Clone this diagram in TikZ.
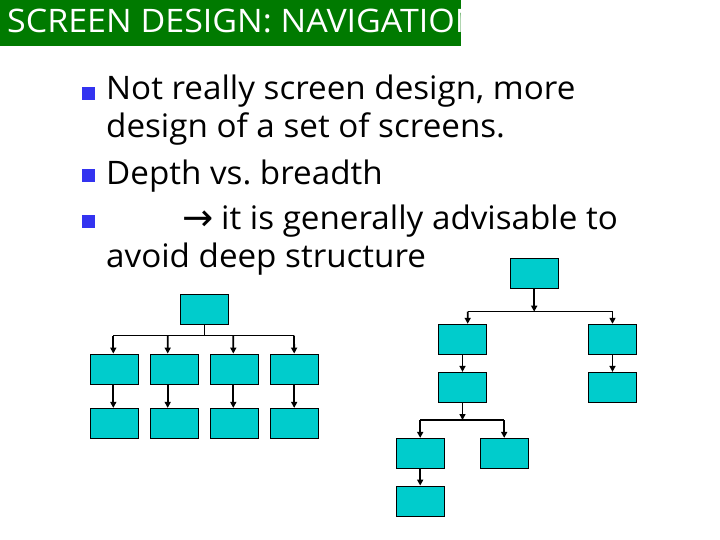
\documentclass[tikz,border=0pt]{standalone}
\usepackage{fontspec}
\setmainfont{Open Sans}
\newfontfamily\arrowfont{DejaVu Sans}
\usetikzlibrary{arrows.meta}
\frenchspacing
\definecolor{titlegreen}{RGB}{0,122,0}
\definecolor{bulletblue}{RGB}{51,51,240}
\definecolor{boxcyan}{RGB}{0,204,204}
\tikzset{
  x={(1bp,0)}, y={(0,-1bp)},
  screen/.style={draw=black, line width=0.8bp, fill=boxcyan, minimum width=48bp, minimum height=30bp, inner sep=0pt},
  arr/.style={line width=1.8bp, -{Triangle[width=6bp,length=6bp]}},
  barline/.style={line width=1.3bp},
  stem/.style={line width=1bp},
  body/.style={anchor=base west, inner sep=0pt, font=\fontsize{32.5}{38}\selectfont},
  bulletsq/.style={fill=bulletblue, draw=none, minimum size=13bp, inner sep=0pt}
}
\newcommand{\wideline}[1]{\scalebox{1.025}[1]{#1}}
\begin{document}
\begin{tikzpicture}
\useasboundingbox (0,0) rectangle (720,540);
% title bar
\fill[titlegreen] (0,0) rectangle (461,46.5);
\begin{scope}
\clip (0,0) rectangle (461,46.5);
\node[anchor=base west, inner sep=0pt, text=white, font=\fontsize{32.5}{38}\selectfont] (title) at (7,33) {\scalebox{1.05}[1]{SCREEN DESIGN: NAVIGATION}};
\end{scope}
% bullets
\node[bulletsq] (b1) at (88.5,94) {};
\node[bulletsq] (b2) at (88.5,176) {};
\node[bulletsq] (b3) at (88.5,221.5) {};
% text
\node[body] (t1) at (106,100) {\wideline{Not really screen design, more}};
\node[body] (t2) at (106,138) {\wideline{design of a set of screens.}};
\node[body] (t3) at (106,185) {\wideline{Depth vs. breadth}};
\node[body] (t4a) at (182,231) {\arrowfont\scalebox{1.15}{→}};
\node[body] (t4) at (221,230) {\wideline{it is generally advisable to}};
\node[body] (t5) at (106,268) {\wideline{avoid deep structure}};
% left tree
\node[screen] (L0) at (204,309) {};
\node[screen] (La) at (114.3,369) {};
\node[screen] (Lb) at (174.2,369) {};
\node[screen] (Lc) at (234.2,369) {};
\node[screen] (Ld) at (294.2,369) {};
\node[screen] (La2) at (114.3,423.3) {};
\node[screen] (Lb2) at (174.2,423.3) {};
\node[screen] (Lc2) at (234.2,423.3) {};
\node[screen] (Ld2) at (294.2,423.3) {};
\coordinate (Lbar) at (204,335.7);
\coordinate (LbarL) at (113.3,335.7);
\coordinate (LbarR) at (294,335.7);
\draw[stem] (L0.south) -- (Lbar);
\draw[barline] (LbarL) -- (LbarR);
\draw[arr] (LbarL) -- ([xshift=-1bp]La.north);
\draw[arr] (Lbar -| Lb.north) ++(-6.5,0) -- ([xshift=-6.5bp]Lb.north);
\draw[arr] (Lbar -| Lc.north) ++(-0.9,0) -- ([xshift=-0.9bp]Lc.north);
\draw[arr] (LbarR) -- (Ld.north);
\draw[arr] ([xshift=-1bp]La.south) -- ([xshift=-1bp]La2.north);
\draw[arr] ([xshift=-6.5bp]Lb.south) -- ([xshift=-6.5bp]Lb2.north);
\draw[arr] ([xshift=-0.9bp]Lc.south) -- ([xshift=-0.9bp]Lc2.north);
\draw[arr] (Ld.south) -- (Ld2.north);
% right tree
\node[screen] (R0) at (534.2,273.3) {};
\node[screen] (RA) at (462.5,339.2) {};
\node[screen] (RB) at (612.5,339.2) {};
\node[screen] (RA2) at (462.5,387.3) {};
\node[screen] (RB2) at (612.5,387.3) {};
\node[screen] (RC) at (420.2,453.3) {};
\node[screen] (RD) at (504.2,453.3) {};
\node[screen] (RC2) at (420.2,501) {};
\coordinate (Rbar) at (534.2,311.7);
\coordinate (RbarL) at (467.7,311.7);
\coordinate (RbarR) at (612.5,311.7);
\draw[barline] (RbarL) -- (RbarR);
\draw[arr] (R0.south) -- (Rbar);
\draw[arr] (RbarL) -- ([xshift=5.2bp]RA.north);
\draw[arr] (RbarR) -- (RB.north);
\draw[arr] (RA.south) -- (RA2.north);
\draw[arr] (RB.south) -- (RB2.north);
\coordinate (Rbar2) at (462.5,420);
\coordinate (Rbar2L) at (420.2,420);
\coordinate (Rbar2R) at (504.2,420);
\draw[barline] (Rbar2L) -- (Rbar2R);
\draw[arr] (RA2.south) -- (Rbar2);
\draw[arr] (Rbar2L) -- (RC.north);
\draw[arr] (Rbar2R) -- (RD.north);
\draw[arr] (RC.south) -- (RC2.north);
\end{tikzpicture}
\end{document}
